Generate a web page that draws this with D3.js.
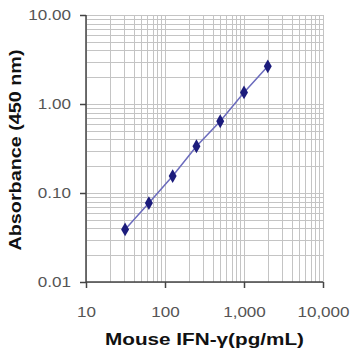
<!DOCTYPE html>
<html>
<head>
<meta charset="utf-8">
<script src="https://cdn.jsdelivr.net/npm/d3@7"></script>
<style>
  body { margin: 0; background: #fff; }
  svg { display: block; font-family: Arial, "Liberation Sans", sans-serif; }
</style>
</head>
<body>
<div class="container"></div>
<script>
// data
const concentrations = [31.25, 62.5, 125, 250, 500, 1000, 2000];
const absorbance = [0.039, 0.077, 0.155, 0.335, 0.64, 1.35, 2.65];
const xTicks = [10, 100, 1000, 10000];
const yTicks = [0.01, 0.1, 1, 10];

// config
const config = {
  width: 358,
  height: 358,
  margin: { left: 86, top: 15, right: 35, bottom: 76 },
  stretch: 1.22, // text in the picture is wider than plain Arial
  color: {
    grid: '#c4c4c4',
    axis: '#444',
    tickText: '#555',
    line: '#6b6bbd',
    marker: '#1c1c7c'
  }
};

const innerW = config.width - config.margin.left - config.margin.right;
const innerH = config.height - config.margin.top - config.margin.bottom;

const svg = d3.select('.container').append('svg')
  .attr('width', config.width)
  .attr('height', config.height);

const g = svg.append('g')
  .attr('transform', `translate(${config.margin.left},${config.margin.top})`);

const x = d3.scaleLog().domain([10, 10000]).range([0, innerW]);
const y = d3.scaleLog().domain([0.01, 10]).range([innerH, 0]);

// minor + major grid lines (1..9 in each decade)
g.append('g').selectAll('line')
  .data(x.ticks())
  .enter().append('line')
  .attr('x1', d => Math.round(x(d)) + 0.5)
  .attr('x2', d => Math.round(x(d)) + 0.5)
  .attr('y1', 0)
  .attr('y2', innerH)
  .style('stroke', config.color.grid)
  .style('stroke-width', 1);

g.append('g').selectAll('line')
  .data(y.ticks())
  .enter().append('line')
  .attr('x1', 0)
  .attr('x2', innerW)
  .attr('y1', d => Math.round(y(d)) + 0.5)
  .attr('y2', d => Math.round(y(d)) + 0.5)
  .style('stroke', config.color.grid)
  .style('stroke-width', 1);

// axes
const xAxis = d3.axisBottom(x)
  .tickValues(xTicks)
  .tickSize(6)
  .tickPadding(19)
  .tickFormat(d3.format(','));

const yAxis = d3.axisLeft(y)
  .tickValues(yTicks)
  .tickSize(6)
  .tickPadding(0)
  .tickFormat(d3.format('.2f'));

const gx = g.append('g')
  .attr('transform', `translate(0,${innerH})`)
  .call(xAxis);

const gy = g.append('g').call(yAxis);

[gx, gy].forEach(ax => {
  ax.select('.domain').style('stroke', config.color.axis).style('stroke-width', 1.5);
  ax.selectAll('.tick line').style('stroke', config.color.axis).style('stroke-width', 1.5);
  ax.selectAll('.tick text')
    .style('fill', config.color.tickText)
    .style('font-size', '14px');
});

// widen tick labels like the picture
gx.selectAll('.tick text').attr('transform', `scale(${config.stretch},1)`);
gy.selectAll('.tick text')
  .attr('x', -15 / config.stretch)
  .attr('transform', `scale(${config.stretch},1)`);

gx.select('.domain').attr('d', `M0,0H${innerW}`);
gy.select('.domain').attr('d', `M0,${innerH}V0`);

// data line
const line = d3.line()
  .x((d, i) => x(concentrations[i]))
  .y(d => y(d));

g.append('path')
  .datum(absorbance)
  .attr('d', line)
  .style('fill', 'none')
  .style('stroke', config.color.line)
  .style('stroke-width', 1.5);

// diamond markers
g.append('g').selectAll('path')
  .data(absorbance)
  .enter().append('path')
  .attr('transform', (d, i) => `translate(${x(concentrations[i])},${y(d)})`)
  .attr('d', d3.symbol().type(d3.symbolDiamond).size(55))
  .style('fill', config.color.marker);

// axis titles
svg.append('text')
  .attr('x', config.margin.left + innerW / 2)
  .attr('y', 345)
  .attr('text-anchor', 'middle')
  .attr('textLength', 199)
  .attr('lengthAdjust', 'spacingAndGlyphs')
  .style('font-size', '17px')
  .style('font-weight', 'bold')
  .style('fill', '#111')
  .text('Mouse IFN-γ(pg/mL)');

svg.append('text')
  .attr('transform', 'translate(21,150) rotate(-90)')
  .attr('text-anchor', 'middle')
  .attr('textLength', 201)
  .attr('lengthAdjust', 'spacingAndGlyphs')
  .style('font-size', '17px')
  .style('font-weight', 'bold')
  .style('fill', '#111')
  .text('Absorbance (450 nm)');
</script>
</body>
</html>
